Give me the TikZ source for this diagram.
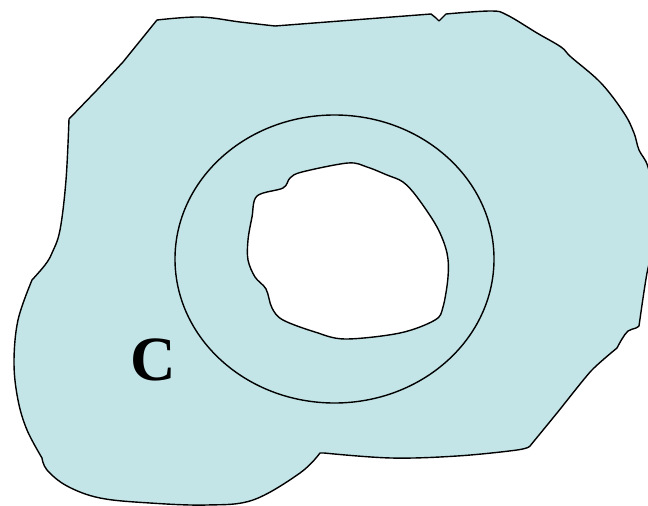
\documentclass[tikz,border=0pt]{standalone}
\usepackage{fontspec}
\setmainfont{Liberation Serif}
\usepackage{xcolor}
\usepackage{tikz}
\usetikzlibrary{calc}

\definecolor{regionfill}{RGB}{196,229,232}

\tikzset{
  outline/.style={draw=black, line width=1.4pt, line join=round},
  region/.style={outline, fill=regionfill},
  hole/.style={outline, fill=white},
  biglabel/.style={font=\fontsize{63}{63}\selectfont\bfseries, inner sep=0pt}
}

\begin{document}
\begin{tikzpicture}[x=1pt, y=-1pt]
  % page frame, same size as the reference
  \useasboundingbox (0,0) rectangle (648,506);
  \clip (0,0) rectangle (648,506);

  % Outer region C (runs past the right edge)
  \path[region] (157,20)
    -- plot[smooth, tension=0.6] coordinates {(157,20) (200,17) (240,22) (275,26)}
    -- (431,14) -- (436,18) -- (439,21) -- (442,18) -- (446,14)
    -- plot[smooth, tension=0.6] coordinates {(446,14) (491,11) (507,15) (537,33)
         (561,47) (571,57) (601,83) (624,113) (634,133) (639,150) (648,167)
         (655,205) (654,245) (647,273) (639,326)}
    -- plot[smooth, tension=0.6] coordinates {(639,326) (636,328) (628,331)
         (622,339) (617,348)}
    -- plot[smooth, tension=0.4] coordinates {(617,348) (591,371) (557,413) (530,446)}
    -- plot[smooth, tension=0.6] coordinates {(530,446) (517,450) (457,456)
         (391,458) (324,453)}
    -- (320,453)
    -- plot[smooth, tension=0.6] coordinates {(320,453) (300,473) (253,500)
         (207,505) (150,503) (100,498) (67,486) (47,470) (42,458)}
    -- plot[smooth, tension=0.6] coordinates {(42,458) (27,430) (18,400)
         (14,363) (18,320) (32,280)}
    -- plot[smooth, tension=0.6] coordinates {(32,280) (45,265) (52,253)
         (60,230) (66,180) (69,119)}
    -- (97,90) -- (123,62) -- cycle;

  % Ring round the hole
  \draw[outline] (334.5,259) ellipse [x radius=159.5, y radius=144];

  % The hole
  \path[hole] plot[smooth cycle, tension=0.55] coordinates {
    (257,196) (283,188) (290,178) (302,172) (348,163) (367,167) (387,175)
    (403,182) (417,197) (437,227) (447,253) (448,277) (443,307) (435,320)
    (400,333) (345,339) (315,332) (283,320) (272,308) (266,289) (255,277)
    (248,260) (248,240) (252,217)};

  % Label
  \node[biglabel] (labelC) at (153,360) {C};
\end{tikzpicture}
\end{document}
